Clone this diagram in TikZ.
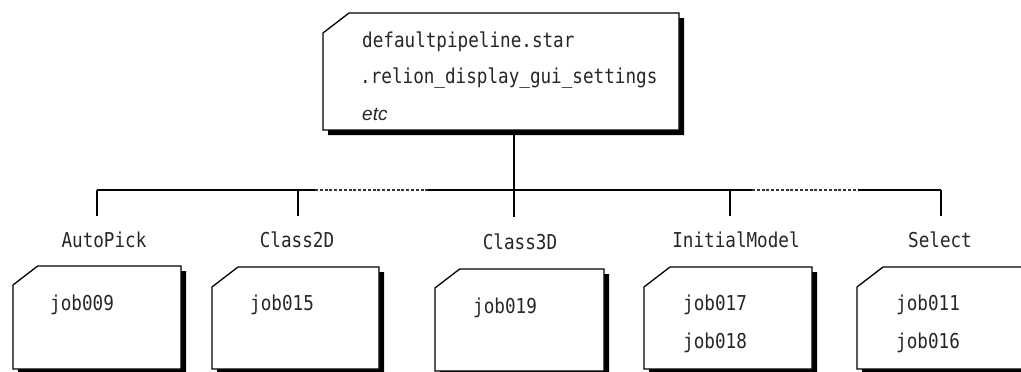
\documentclass[tikz,border=0pt]{standalone}
\usepackage{fontspec}
\newfontfamily\gfont[FakeStretch=0.86]{DejaVu Sans Mono}
\newfontfamily\ifont{Liberation Sans}
\newcommand\folderbox[6]{% name, left, top, right, bottom, cut
  \fill[black] (#2+5,#3+#6+5) -- (#2+#6*1.3+5,#3+5) -- (#4+5,#3+5) -- (#4+5,#5+5) -- (#2+5,#5+5) -- cycle;
  \draw[boxline] (#2,#3+#6) -- (#2+#6*1.3,#3) -- (#4,#3) -- (#4,#5) -- (#2,#5) -- cycle;
  \coordinate (#1) at ({(#2+#4)/2},#3);
}
\begin{document}
\begin{tikzpicture}[x=1pt,y=-1pt,
  boxline/.style={line width=1.3pt, fill=white, line join=miter},
  conn/.style={line width=1.3pt},
  dotconn/.style={line width=1.3pt, dash pattern=on 3pt off 1.8pt, black!80},
  lab/.style={font=\gfont\fontsize{20.5}{24}\selectfont, anchor=base, inner sep=0pt, text=black!85},
  job/.style={font=\gfont\fontsize{20.5}{24}\selectfont, anchor=base west, inner sep=0pt, text=black!85}]
\useasboundingbox (0,0) rectangle (1021,372);
\clip (0,0) rectangle (1021,372);
% top box
\folderbox{topbox}{323}{13}{679}{130}{20}
\coordinate (topb) at (514,130);
\node[job] (t1) at (362,47) {defaultpipeline.star};
\node[job] (t2) at (360,83) {.relion\_display\_gui\_settings};
\node[job, font=\ifont\itshape\fontsize{19}{22}\selectfont] (t3) at (362,120) {etc};
% bus
\coordinate (hub) at (514,190);
\coordinate (b1) at (97,190);
\coordinate (b2) at (298,190);
\coordinate (b4) at (730,190);
\coordinate (b5) at (941,190);
\coordinate (d1s) at (315,190);
\coordinate (d1e) at (428,190);
\coordinate (d2s) at (752,190);
\coordinate (d2e) at (858,190);
\draw[conn] (topb) -- (hub);
\draw[conn] (b1) -- (d1s);
\draw[dotconn] (d1s) -- (d1e);
\draw[conn] (d1e) -- (d2s);
\draw[dotconn] (d2s) -- (d2e);
\draw[conn] (d2e) -- (b5);
\coordinate (e1) at (97,216);
\coordinate (e2) at (298,216);
\coordinate (e3) at (514,217);
\coordinate (e4) at (730,216);
\coordinate (e5) at (941,216);
\draw[conn] (b1) -- (e1);
\draw[conn] (b2) -- (e2);
\draw[conn] (hub) -- (e3);
\draw[conn] (b4) -- (e4);
\draw[conn] (b5) -- (e5);
% labels
\node[lab] (l1) at (104,247) {AutoPick};
\node[lab] (l2) at (297,247) {Class2D};
\node[lab] (l3) at (520,249) {Class3D};
\node[lab] (l4) at (736,247) {InitialModel};
\node[lab] (l5) at (940,247) {Select};
% job boxes
\folderbox{j1}{13}{266}{181}{369}{19}
\folderbox{j2}{212}{267}{379}{369}{20}
\folderbox{j3}{435}{269}{604}{371}{19}
\folderbox{j4}{644}{267}{812}{369}{20}
\folderbox{j5}{857}{267}{1040}{369}{20}
\node[job] (a1) at (50,310) {job009};
\node[job] (a2) at (250,310) {job015};
\node[job] (a3) at (473,313) {job019};
\node[job] (a4) at (683,310) {job017};
\node[job] (a5) at (683,348) {job018};
\node[job] (a6) at (896,310) {job011};
\node[job] (a7) at (896,348) {job016};
\end{tikzpicture}
\end{document}
